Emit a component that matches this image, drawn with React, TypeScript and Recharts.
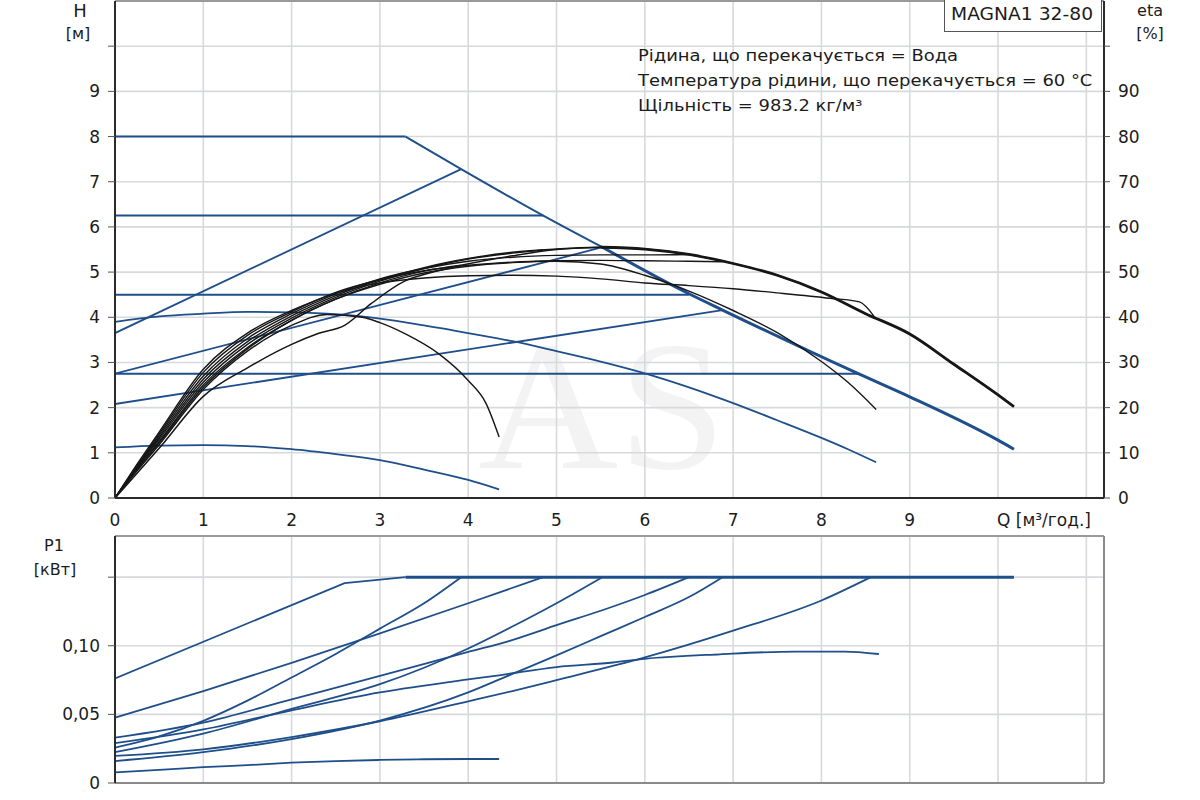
import React from 'react';
import { LineChart, Line, XAxis, YAxis, CartesianGrid, ReferenceLine } from 'recharts';

type Pt = [number, number];
type Curve = 'monotone' | 'linear';

const BLUE = '#1f4f8a';
const BLACK = '#161616';
const GRID = '#d7d9dd';
const FONT = '"DejaVu Sans", "Liberation Sans", Arial, sans-serif';

// axis ticks
const qTicks = [0, 1, 2, 3, 4, 5, 6, 7, 8, 9, 10, 11];
const headTicks = [0, 1, 2, 3, 4, 5, 6, 7, 8, 9, 10];
const etaTicks = [0, 10, 20, 30, 40, 50, 60, 70, 80, 90, 100];
const powerTicks = [0, 0.05, 0.1, 0.15];

// H(Q), м  -- control curves
const headConst8: Pt[] = [[0, 8], [3.29, 8]];
const headMaxUpper: Pt[] = [[3.29, 8], [3.92, 7.28], [4.85, 6.25], [5.52, 5.55]];
const headMaxLower: Pt[] = [[5.52, 5.55], [6.5, 4.52], [6.88, 4.16], [8.43, 2.74], [9, 2.24], [10, 1.28], [10.18, 1.08]];
const headProp365: Pt[] = [[0, 3.65], [3.92, 7.28]];
const headConst625: Pt[] = [[0, 6.25], [4.85, 6.25]];
const headProp275: Pt[] = [[0, 2.75], [5.52, 5.55]];
const headConst45: Pt[] = [[0, 4.5], [6.5, 4.5]];
const headProp208: Pt[] = [[0, 2.08], [6.88, 4.16]];
const headConst275: Pt[] = [[0, 2.75], [8.43, 2.75]];
const headSpeedHigh: Pt[] = [
  [0, 3.9], [0.5, 4.02], [1, 4.08], [1.5, 4.12], [2, 4.11], [2.5, 4.07], [3, 3.97], [3.5, 3.82],
  [4, 3.65], [4.5, 3.47], [5, 3.25], [5.5, 3.02], [6, 2.76], [6.5, 2.45], [7, 2.1], [7.5, 1.72],
  [8, 1.33], [8.3, 1.08], [8.62, 0.79],
];
const headSpeedLow: Pt[] = [
  [0, 1.12], [0.5, 1.16], [1, 1.17], [1.5, 1.15], [2, 1.08], [2.5, 0.97], [3, 0.84], [3.5, 0.63],
  [4, 0.4], [4.35, 0.19],
];

// eta(Q), %
const etaMax: Pt[] = [
  [0, 0], [0.25, 5.5], [0.5, 11], [1, 22.5], [1.5, 28.8], [2, 34], [2.3, 36.4], [2.6, 38.2], [2.9, 43],
  [3.28, 48], [3.6, 50], [3.92, 51.5], [4.5, 53.6], [5, 55], [5.5, 55.5], [6, 55.1], [6.5, 53.9],
  [7, 51.9], [7.5, 49.3], [8, 45.6], [8.5, 40.8], [9, 36.3], [9.5, 29.6], [10, 22.8], [10.18, 20.2],
];
const etaMaxTail: Pt[] = [
  [5.5, 55.5], [6, 55.1], [6.5, 53.9], [7, 51.9], [7.5, 49.3], [8, 45.6], [8.5, 40.8], [9, 36.3],
  [9.5, 29.6], [10, 22.8], [10.18, 20.2],
];
const etaProp365: Pt[] = [
  [0, 0], [0.25, 6.5], [0.5, 12.5], [1, 25], [1.5, 33.3], [2, 39.3], [2.5, 44], [3, 47.6], [3.5, 50.2], [3.92, 51.5],
];
const etaConst625: Pt[] = [
  [0, 0], [0.25, 6.7], [0.5, 13], [1, 25.6], [1.5, 34], [2, 39.8], [2.5, 44.4], [3, 48], [3.5, 50.8],
  [4, 52.9], [4.5, 54.2], [4.85, 54.9],
];
const etaProp275: Pt[] = [
  [0, 0], [0.25, 6.9], [0.5, 13.4], [1, 26.3], [1.5, 34.6], [2, 40.3], [2.5, 44.8], [3, 48.3], [3.5, 51],
  [4, 53], [4.5, 54.4], [5, 55.1], [5.52, 55.5],
];
const etaConst45: Pt[] = [
  [0, 0], [0.25, 7], [0.5, 13.8], [1, 27], [1.5, 35.3], [2, 40.8], [2.5, 45.2], [3, 48.5], [3.5, 50.8],
  [4, 52.4], [4.5, 53.3], [5, 53.7], [5.5, 53.8], [6, 53.8], [6.5, 53.9],
];
const etaProp208: Pt[] = [
  [0, 0], [0.25, 7.2], [0.5, 14.2], [1, 27.8], [1.5, 36], [2, 41.2], [2.5, 45.5], [3, 48.3], [3.5, 50.3],
  [4, 51.5], [4.5, 52.2], [5, 52.5], [5.5, 52.6], [6, 52.5], [6.5, 52.4], [6.88, 52.3],
];
const etaConst275: Pt[] = [
  [0, 0], [0.25, 7.5], [0.5, 14.6], [1, 28.5], [1.5, 36.5], [2, 41.5], [2.5, 45.3], [3, 47.6], [3.5, 48.7],
  [4, 49.2], [4.5, 49.3], [5, 49.1], [5.5, 48.5], [6, 47.6], [6.5, 47], [7, 46.3], [7.5, 45.4],
  [8.1, 44.2], [8.43, 43.4], [8.6, 40.1],
];
const etaSpeedHigh: Pt[] = [
  [0, 0], [0.25, 6.3], [0.5, 12.2], [1, 24.5], [1.5, 33], [2, 39.3], [2.5, 44], [3, 47.3], [3.5, 49.8],
  [4, 51.3], [4.5, 52.1], [5, 52.4], [5.5, 51.8], [6, 49.3], [6.5, 45.8], [7, 41.5], [7.5, 36.6],
  [8, 30.2], [8.3, 25.6], [8.62, 19.6],
];
const etaSpeedLow: Pt[] = [
  [0, 0], [0.25, 6], [0.5, 11.8], [1, 24], [1.5, 32.5], [2, 38.2], [2.4, 40.6], [2.8, 40], [3, 38.8],
  [3.3, 36.2], [3.66, 32], [4, 26], [4.2, 21], [4.35, 13.5],
];

// P1(Q), кВт
const powerMax: Pt[] = [[0, 0.0762], [2.6, 0.1457], [3.29, 0.15]];
const powerMaxFlat: Pt[] = [[3.29, 0.15], [10.18, 0.15]];
const powerProp365: Pt[] = [
  [0, 0.0258], [0.5, 0.034], [1, 0.0453], [1.5, 0.06], [2, 0.0769], [2.5, 0.094], [2.76, 0.1036],
  [3, 0.1125], [3.5, 0.131], [3.92, 0.15],
];
const powerConst625: Pt[] = [[0, 0.0477], [1, 0.067], [2, 0.0875], [3, 0.109], [4, 0.131], [4.85, 0.15]];
const powerConst45: Pt[] = [
  [0, 0.033], [1, 0.044], [2, 0.061], [3, 0.078], [4, 0.0955], [4.47, 0.1036], [5, 0.115], [5.6, 0.1277],
  [6, 0.137], [6.5, 0.15],
];
const powerSpeedHigh: Pt[] = [
  [0, 0.029], [1, 0.039], [2, 0.053], [3, 0.066], [4, 0.0755], [4.35, 0.0785], [5, 0.0845], [5.64, 0.0878],
  [6, 0.0905], [6.85, 0.0938], [7.71, 0.0958], [8.26, 0.0958], [8.65, 0.094],
];
const powerProp275: Pt[] = [
  [0, 0.0225], [1, 0.036], [2, 0.054], [3, 0.072], [3.5, 0.084], [4, 0.098], [4.5, 0.114], [5, 0.131], [5.52, 0.15],
];
const powerProp208: Pt[] = [
  [0, 0.016], [1, 0.0225], [2, 0.032], [3, 0.0455], [4, 0.066], [4.5, 0.0795], [5, 0.093], [5.5, 0.107],
  [6, 0.121], [6.5, 0.1355], [6.88, 0.15],
];
const powerConst275: Pt[] = [
  [0, 0.0197], [1, 0.0245], [2, 0.0335], [3, 0.045], [4, 0.0595], [4.5, 0.067], [5, 0.075], [6, 0.0915],
  [7, 0.111], [8, 0.133], [8.56, 0.15],
];
const powerSpeedLow: Pt[] = [
  [0, 0.0078], [0.5, 0.0095], [1, 0.0115], [1.5, 0.013], [2, 0.0148], [2.5, 0.016], [3, 0.0168],
  [3.5, 0.0173], [4, 0.0175], [4.35, 0.0175],
];

const rows = (pts: Pt[]) => pts.map(([q, v]) => ({ q, v }));

const headSeries: { pts: Pt[]; w: number; c?: Curve }[] = [
  { pts: headConst8, w: 2, c: 'linear' },
  { pts: headMaxUpper, w: 2 },
  { pts: headMaxLower, w: 3 },
  { pts: headProp365, w: 1.8, c: 'linear' },
  { pts: headConst625, w: 2, c: 'linear' },
  { pts: headProp275, w: 1.8, c: 'linear' },
  { pts: headConst45, w: 2, c: 'linear' },
  { pts: headProp208, w: 1.8, c: 'linear' },
  { pts: headConst275, w: 2, c: 'linear' },
  { pts: headSpeedHigh, w: 1.8 },
  { pts: headSpeedLow, w: 1.8 },
];

const etaSeries: { pts: Pt[]; w: number; c?: Curve }[] = [
  { pts: etaMax, w: 1.5 },
  { pts: etaMaxTail, w: 2.8 },
  { pts: etaProp365, w: 1.4 },
  { pts: etaConst625, w: 1.4 },
  { pts: etaProp275, w: 1.4 },
  { pts: etaConst45, w: 1.4 },
  { pts: etaProp208, w: 1.4 },
  { pts: etaConst275, w: 1.4 },
  { pts: etaSpeedHigh, w: 1.4 },
  { pts: etaSpeedLow, w: 1.4 },
];

const powerSeries: { pts: Pt[]; w: number; c?: Curve }[] = [
  { pts: powerMax, w: 1.8, c: 'linear' },
  { pts: powerMaxFlat, w: 3, c: 'linear' },
  { pts: powerProp365, w: 1.8 },
  { pts: powerConst625, w: 1.8 },
  { pts: powerConst45, w: 1.8 },
  { pts: powerSpeedHigh, w: 1.8 },
  { pts: powerProp275, w: 1.8 },
  { pts: powerProp208, w: 1.8 },
  { pts: powerConst275, w: 1.8 },
  { pts: powerSpeedLow, w: 1.8 },
];

const tickStyle = { fill: '#1c1c1c', fontSize: 17, fontFamily: FONT };

function QTick(props: any) {
  const { x, y, payload } = props;
  const v = payload.value;
  if (v === 11) return <g />;
  if (v === 10) {
    return (
      <text x={x - 1} y={y} dy="0.71em" textAnchor="start" {...tickStyle}>
        Q [м³/год.]
      </text>
    );
  }
  return (
    <text x={x} y={y} dy="0.71em" textAnchor="middle" {...tickStyle}>
      {v}
    </text>
  );
}

const label = (left: number, top: number, text: string, size = 17): React.ReactElement => (
  <div
    style={{
      position: 'absolute',
      left: left - 60,
      top,
      width: 120,
      textAlign: 'center',
      fontFamily: FONT,
      fontSize: size,
      color: '#1c1c1c',
      lineHeight: 1,
    }}
  >
    {text}
  </div>
);

export default function App() {
  return (
    <div style={{ position: 'absolute', left: 0, top: 0, width: 1200, height: 800, background: '#fff', overflow: 'hidden' }}>
      {/* faint watermark */}
      <div
        style={{
          position: 'absolute',
          left: 478,
          top: 313,
          fontFamily: '"Liberation Serif", serif',
          fontSize: 185,
          lineHeight: 1,
          color: '#f3f3f3',
          transform: 'scaleX(1.05)',
          transformOrigin: 'left top',
        }}
      >
        AS
      </div>

      <div style={{ position: 'absolute', left: 0, top: 0 }}>
        <LineChart width={1200} height={540} margin={{ top: 1, right: 0, left: 0, bottom: 0 }}>
          <CartesianGrid yAxisId="h" stroke={GRID} strokeWidth={1.6} />
          <XAxis
            type="number"
            dataKey="q"
            domain={[0, 11.2]}
            ticks={qTicks}
            interval={0}
            allowDataOverflow
            height={42}
            tickLine={false}
            tickSize={6}
            tickMargin={10}
            axisLine={{ stroke: '#2b2b2b', strokeWidth: 2 }}
            tick={<QTick />}
          />
          <YAxis
            yAxisId="h"
            type="number"
            domain={[0, 11]}
            ticks={headTicks}
            interval={0}
            allowDataOverflow
            width={115}
            tickSize={7}
            tickMargin={8}
            axisLine={{ stroke: '#2b2b2b', strokeWidth: 2 }}
            tickLine={{ stroke: '#555' }}
            tick={tickStyle}
            tickFormatter={(v: number) => (v === 10 ? '' : String(v))}
          />
          <YAxis
            yAxisId="eta"
            orientation="right"
            type="number"
            domain={[0, 110]}
            ticks={etaTicks}
            interval={0}
            allowDataOverflow
            width={96}
            tickSize={6}
            tickMargin={8}
            axisLine={{ stroke: '#2b2b2b', strokeWidth: 2 }}
            tickLine={{ stroke: '#555' }}
            tick={tickStyle}
            tickFormatter={(v: number) => (v === 100 ? '' : String(v))}
          />
          <ReferenceLine yAxisId="h" y={11} stroke="#9a9a9a" strokeWidth={2} />
          {headSeries.map((s, i) => (
            <Line
              key={'h' + i}
              yAxisId="h"
              data={rows(s.pts)}
              dataKey="v"
              type={s.c ?? 'monotone'}
              stroke={BLUE}
              strokeWidth={s.w}
              dot={false}
              activeDot={false}
              isAnimationActive={false}
            />
          ))}
          {etaSeries.map((s, i) => (
            <Line
              key={'e' + i}
              yAxisId="eta"
              data={rows(s.pts)}
              dataKey="v"
              type={s.c ?? 'monotone'}
              stroke={BLACK}
              strokeWidth={s.w}
              dot={false}
              activeDot={false}
              isAnimationActive={false}
            />
          ))}
        </LineChart>
      </div>

      <div style={{ position: 'absolute', left: 0, top: 530 }}>
        <LineChart width={1200} height={270} margin={{ top: 6, right: 96, left: 0, bottom: 0 }}>
          <CartesianGrid yAxisId="p" stroke={GRID} strokeWidth={1.6} />
          <XAxis
            type="number"
            dataKey="q"
            domain={[0, 11.2]}
            ticks={qTicks}
            interval={0}
            allowDataOverflow
            height={17}
            tickLine={false}
            axisLine={{ stroke: '#8a8a8a', strokeWidth: 2 }}
            tickFormatter={() => ''}
          />
          <YAxis
            yAxisId="p"
            type="number"
            domain={[0, 0.18]}
            ticks={powerTicks}
            interval={0}
            allowDataOverflow
            width={115}
            tickSize={7}
            tickMargin={8}
            axisLine={{ stroke: '#2b2b2b', strokeWidth: 2 }}
            tickLine={{ stroke: '#555' }}
            tick={tickStyle}
            tickFormatter={(v: number) => (v === 0 ? '0' : v > 0.14 ? '' : v.toFixed(2).replace('.', ','))}
          />
          <ReferenceLine yAxisId="p" y={0.18} stroke="#9a9a9a" strokeWidth={2} />
          <ReferenceLine yAxisId="p" x={11.2} stroke="#8a8a8a" strokeWidth={2} />
          {powerSeries.map((s, i) => (
            <Line
              key={'p' + i}
              yAxisId="p"
              data={rows(s.pts)}
              dataKey="v"
              type={s.c ?? 'monotone'}
              stroke={BLUE}
              strokeWidth={s.w}
              dot={false}
              activeDot={false}
              isAnimationActive={false}
            />
          ))}
        </LineChart>
      </div>

      {/* axis titles */}
      {label(80, 2, 'H', 18)}
      {label(78, 26, '[м]', 16)}
      {label(1150, 3, 'eta', 16)}
      {label(1150, 26, '[%]', 16)}
      {label(54, 538, 'P1', 16)}
      {label(55, 562, '[кВт]', 16)}

      {/* pump name box */}
      <div
        style={{
          position: 'absolute',
          left: 944,
          top: -2,
          width: 158,
          height: 34,
          border: '1.5px solid #555',
          background: '#fff',
          boxSizing: 'border-box',
          fontFamily: FONT,
          fontSize: 17,
          color: '#1c1c1c',
          whiteSpace: 'nowrap',
        }}
      >
        <span
          style={{
            position: 'absolute',
            left: 6,
            top: 7,
            lineHeight: 1,
            transform: 'scaleX(1.1)',
            transformOrigin: 'left top',
          }}
        >
          MAGNA1 32-80
        </span>
      </div>

      {/* fluid info */}
      <div
        style={{
          position: 'absolute',
          left: 638,
          top: 43,
          fontFamily: FONT,
          fontSize: 16,
          lineHeight: '25px',
          color: '#1c1c1c',
          whiteSpace: 'nowrap',
          transform: 'scaleX(1.12)',
          transformOrigin: 'left top',
        }}
      >
        <div>Рідина, що перекачується = Вода</div>
        <div>Температура рідини, що перекачується = 60 °C</div>
        <div>Щільність = 983.2 кг/м³</div>
      </div>
    </div>
  );
}
